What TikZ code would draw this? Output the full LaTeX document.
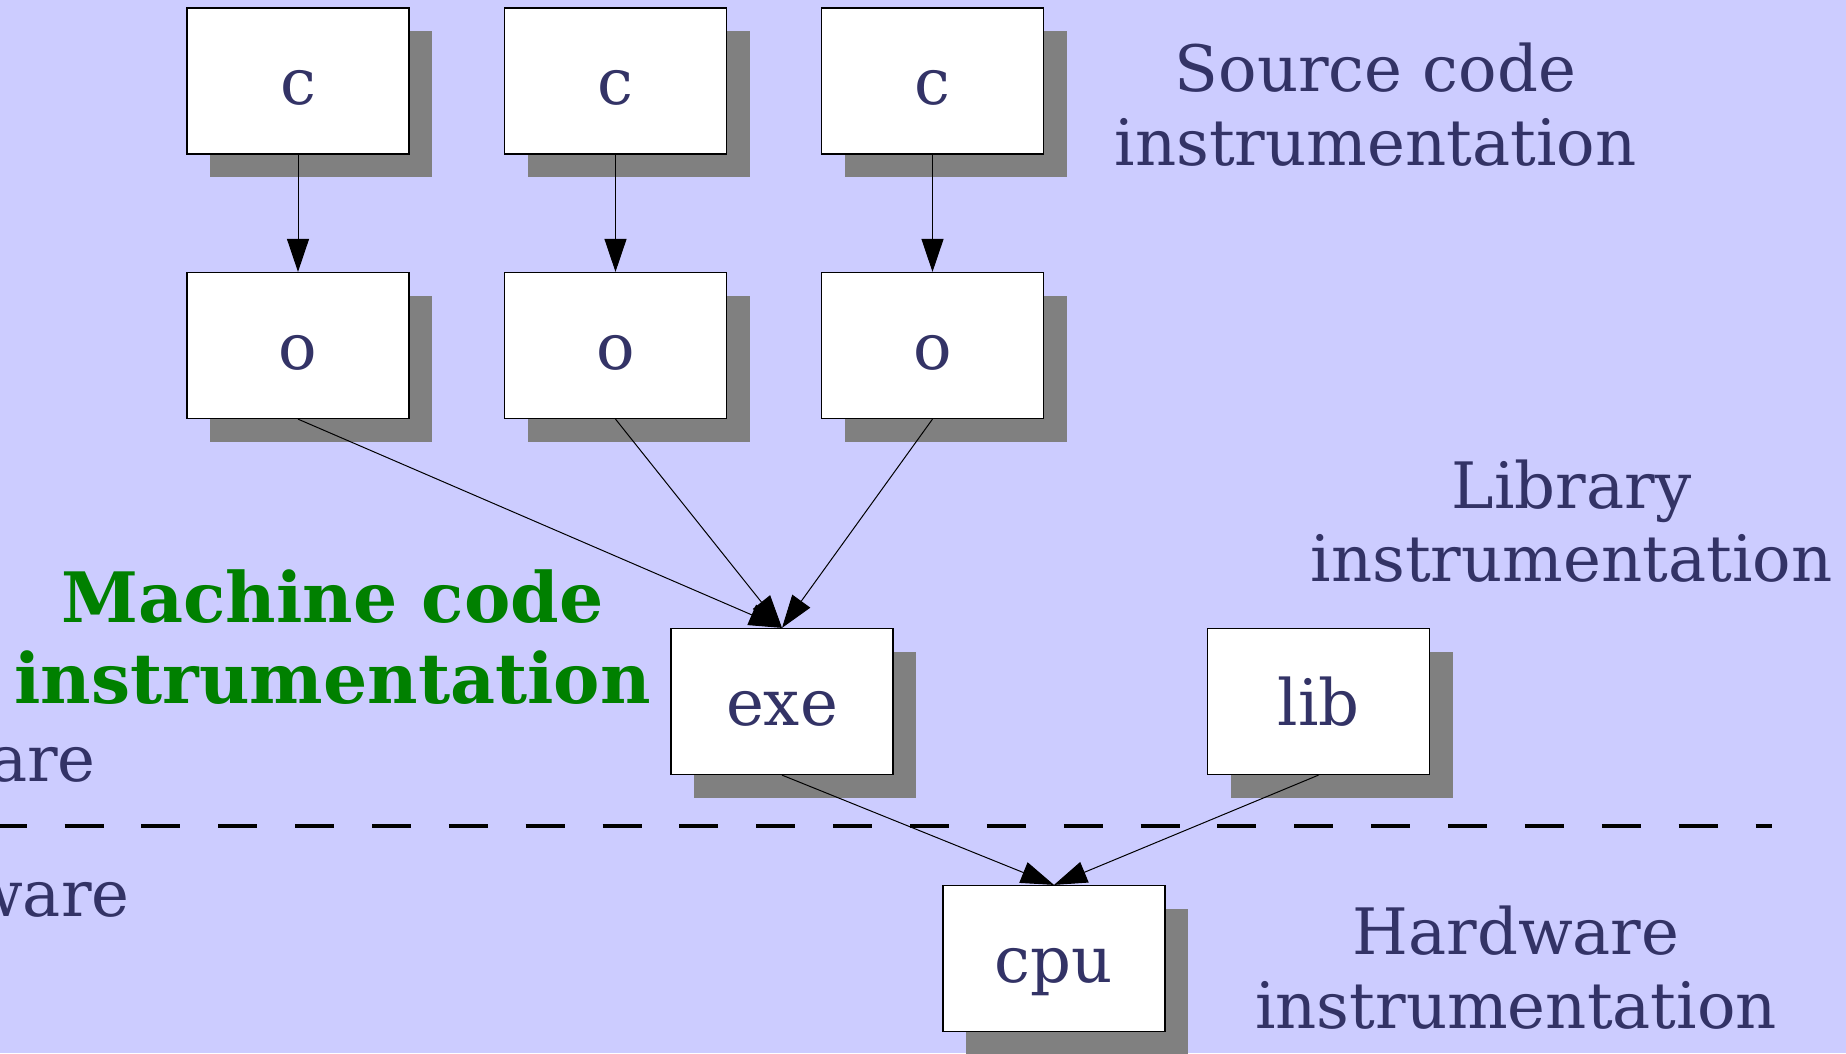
\documentclass[tikz,border=0pt]{standalone}
\usepackage{fontspec}
\setmainfont{DejaVu Serif}
\usetikzlibrary{arrows.meta,shadows}

\definecolor{bgblue}{HTML}{CCCCFF}
\definecolor{inkblue}{HTML}{333366}
\definecolor{shadowgray}{HTML}{808080}
\definecolor{mcgreen}{HTML}{008000}

\tikzset{
  stagebox/.style={rectangle, draw=black, line width=1.2pt, fill=white,
    minimum width=222pt, minimum height=146pt, inner sep=0pt,
    text=inkblue, font=\fontsize{64}{74}\selectfont,
    text height=47pt, text depth=0pt,
    drop shadow={shadow xshift=23pt, shadow yshift=-23pt,
      fill=shadowgray, opacity=1}},
  lvl/.style={anchor=base, inner sep=0pt, text=inkblue,
    font=\fontsize{64}{74}\selectfont},
  side/.style={anchor=base west, inner sep=0pt, text=inkblue,
    font=\fontsize{64}{74}\selectfont},
  mc/.style={anchor=base, inner sep=0pt, text=mcgreen,
    font=\fontsize{69.5}{80}\selectfont\bfseries},
  flow/.style={draw=black, line width=1pt,
    -{Triangle[length=33pt, width=22pt]}},
  split/.style={draw=black, line width=4.3pt, dash pattern=on 39pt off 37.86pt}
}

\begin{document}
\begin{tikzpicture}[x=1pt, y=-1pt]
  % canvas
  \fill[bgblue] (0,0) rectangle (1846,1053);
  \useasboundingbox (0,0) rectangle (1846,1053);

  % software / hardware boundary
  \coordinate (splitL) at (-12.3,826);
  \coordinate (splitR) at (1772,826);
  \draw[split] (splitL) -- (splitR);

  % side labels, mostly outside the canvas
  \node[side] (sw) at (-197.5,781.7) {Software};
  \node[side] (hw) at (-197.5,916) {Hardware};

  % level labels
  \node[lvl] (srcA) at (1375.5,91.7) {Source code};
  \node[lvl] (srcB) at (1375.5,165) {instrumentation};
  \node[lvl] (libA) at (1571.5,508) {Library};
  \node[lvl] (libB) at (1571.5,581.7) {instrumentation};
  \node[lvl] (hwA) at (1516,954) {Hardware};
  \node[lvl] (hwB) at (1516,1028) {instrumentation};
  \node[mc] (mcA) at (332.5,622.7) {Machine code};
  \node[mc] (mcB) at (332.5,703.3) {instrumentation};

  % build stages
  \node[stagebox] (c1) at (298,81) {c};
  \node[stagebox] (c2) at (615.5,81) {c};
  \node[stagebox] (c3) at (932.5,81) {c};
  \node[stagebox] (o1) at (298,345.5) {o};
  \node[stagebox] (o2) at (615.5,345.5) {o};
  \node[stagebox] (o3) at (932.5,345.5) {o};
  \node[stagebox] (exe) at (782,701.5) {exe};
  \node[stagebox] (lib) at (1318.5,701.5) {lib};
  \node[stagebox] (cpu) at (1054,958.5) {cpu};

  % compile, link, run
  \draw[flow] (c1.south) -- (o1.north);
  \draw[flow] (c2.south) -- (o2.north);
  \draw[flow] (c3.south) -- (o3.north);
  \draw[flow] (o1.south) -- (exe.north);
  \draw[flow] (o2.south) -- (exe.north);
  \draw[flow] (o3.south) -- (exe.north);
  \draw[flow] (exe.south) -- (cpu.north);
  \draw[flow] (lib.south) -- (cpu.north);
\end{tikzpicture}
\end{document}
